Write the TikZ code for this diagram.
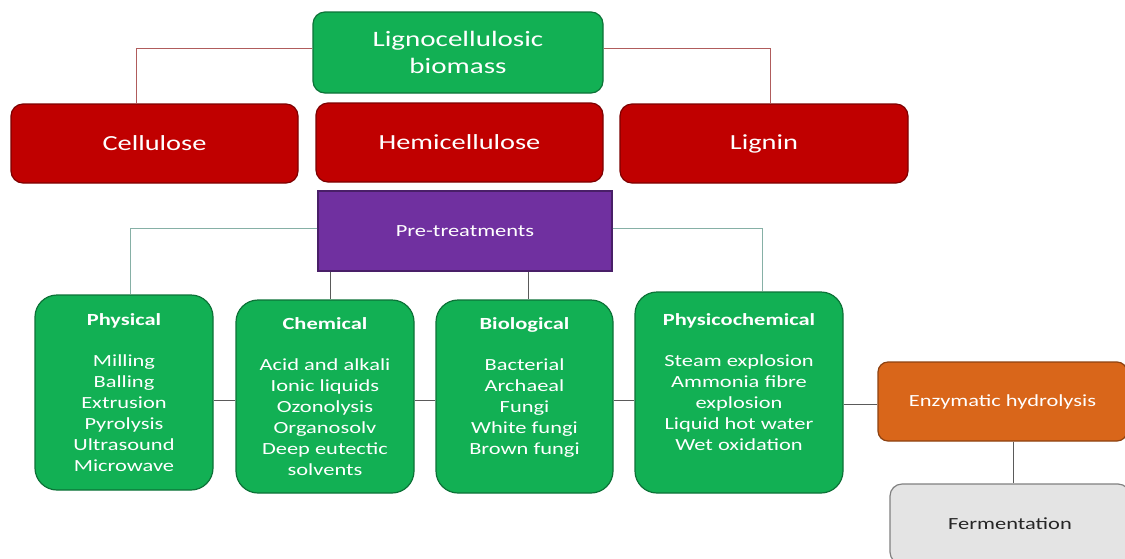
\documentclass[tikz,border=0pt]{standalone}
\usepackage{fontspec}
\setmainfont{Carlito}[FakeStretch=1.32]
\usepackage{xcolor}
\usepackage{tikz}
\usetikzlibrary{positioning}
\definecolor{bmgreen}{RGB}{18,176,84}
\definecolor{bmred}{RGB}{192,0,0}
\definecolor{bmpurple}{RGB}{112,48,160}
\definecolor{bmorange}{RGB}{217,102,26}
\definecolor{bmgray}{RGB}{228,228,228}
\definecolor{lnred}{RGB}{176,92,92}
\definecolor{lnteal}{RGB}{134,176,166}
\definecolor{lngray}{RGB}{90,90,90}

\begin{document}
\begin{tikzpicture}[x=1pt,y=-1pt,
  bx/.style={draw=#1!65!black,line width=1.2pt,rounded corners=12pt,fill=#1,text=white,align=center,
             inner sep=0pt,font=\fontsize{17}{21}\selectfont},bx/.default=bmgreen,
  tx/.style={text=white,align=center,inner sep=0pt,font=\fontsize{17}{21}\selectfont},
  ln/.style={draw=#1,line width=1pt},ln/.default=lngray]
  \useasboundingbox (0,0) rectangle (1125,558);
  \node[bx=bmgreen,minimum width=290pt,minimum height=81pt,font=\fontsize{22}{27}\selectfont] (L) at (458,52.5) {Lignocellulosic\\biomass};
  \node[bx=bmred,minimum width=287pt,minimum height=79pt,font=\fontsize{21.5}{26}\selectfont] (C) at (154.5,143.5) {Cellulose};
  \node[bx=bmred,minimum width=287pt,minimum height=79pt,font=\fontsize{21.5}{26}\selectfont] (H) at (459.5,142.5) {Hemicellulose};
  \node[bx=bmred,minimum width=288pt,minimum height=79pt,font=\fontsize{21.5}{26}\selectfont] (G) at (764,143.5) {Lignin};
  \node[bx=bmpurple,sharp corners,minimum width=294pt,minimum height=80pt] (PT) at (465,231) {Pre-treatments};
  \node[bx,rounded corners=22pt,minimum width=178pt,minimum height=195pt] (Phy) at (124,392.5) {};
  \node[bx,rounded corners=22pt,minimum width=178pt,minimum height=193pt] (Che) at (325,396.5) {};
  \node[bx,rounded corners=22pt,minimum width=177pt,minimum height=193pt] (Bio) at (524.5,396.5) {};
  \node[bx,rounded corners=22pt,minimum width=208pt,minimum height=201pt] (Phc) at (739,392.5) {};
  \node[tx,below=18.5pt of Phy.north] (PhyT) {\textbf{Physical}\\[20pt]Milling\\Balling\\Extrusion\\Pyrolysis\\Ultrasound\\Microwave};
  \node[tx,below=17.5pt of Che.north] (CheT) {\textbf{Chemical}\\[20pt]Acid and alkali\\Ionic liquids\\Ozonolysis\\Organosolv\\Deep eutectic\\solvents};
  \node[tx,below=17.5pt of Bio.north] (BioT) {\textbf{Biological}\\[20pt]Bacterial\\Archaeal\\Fungi\\White fungi\\Brown fungi};
  \node[tx,below=21.5pt of Phc.north] (PhcT) {\textbf{Physicochemical}\\[20pt]Steam explosion\\Ammonia fibre\\explosion\\Liquid hot water\\Wet oxidation};
  \node[bx=bmorange,rounded corners=10pt,minimum width=249pt,minimum height=79pt] (Enz) at (1002.5,401.5) {Enzymatic hydrolysis};
  \node[bx=bmgray,draw=black!50,text=black!85,minimum width=240pt,minimum height=80pt] (Fer) at (1010,524) {Fermentation};
  \draw[ln=lnred] ([yshift=4.5pt]L.west) -| ([xshift=-18.5pt]C.north);
  \draw[ln=lnred] ([yshift=4.5pt]L.east) -| ([xshift=6pt]G.north);
  \draw[ln=lnteal] ([yshift=3pt]PT.west) -| ([xshift=6pt]Phy.north);
  \draw[ln=lnteal] ([yshift=3pt]PT.east) -| ([xshift=23pt]Phc.north);
  \draw[ln] ([xshift=5pt]Che.north |- PT.south) -- ([xshift=5pt]Che.north);
  \draw[ln] ([xshift=3.5pt]Bio.north |- PT.south) -- ([xshift=3.5pt]Bio.north);
  \draw[ln] ([yshift=-7.5pt]Phy.east) -- ([yshift=-3.5pt]Che.west);
  \draw[ln] ([yshift=-3.5pt]Che.east) -- ([yshift=-3.5pt]Bio.west);
  \draw[ln] ([yshift=-3.5pt]Bio.east) -- ([yshift=-7.5pt]Phc.west);
  \draw[ln] ([yshift=-11.5pt]Phc.east) -- ([yshift=-2.5pt]Enz.west);
  \draw[ln] ([xshift=10.5pt]Enz.south) -- ([xshift=10.5pt]Enz.south |- Fer.north);
\end{tikzpicture}
\end{document}
